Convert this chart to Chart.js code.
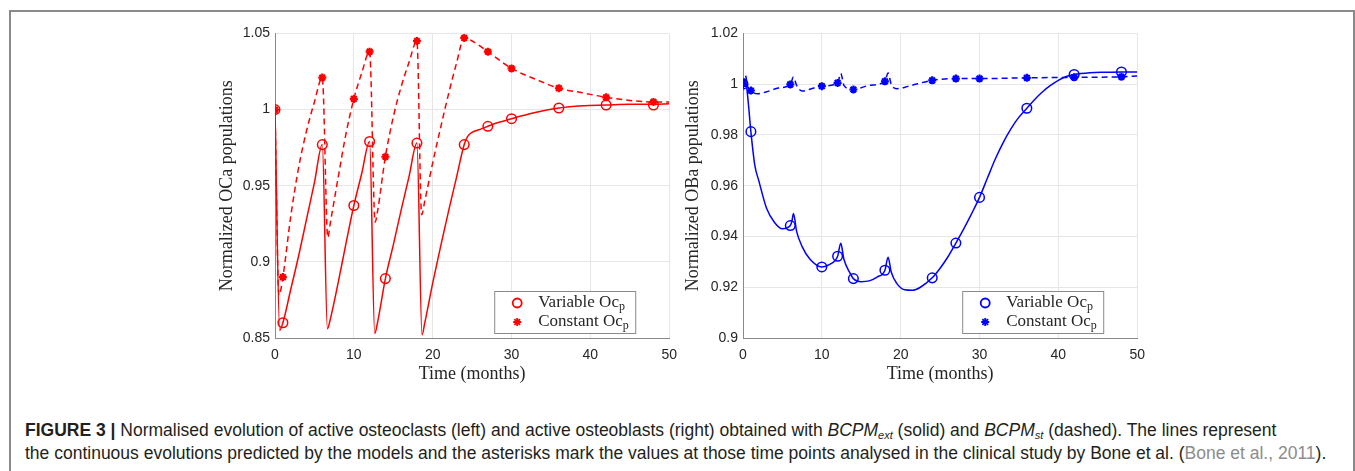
<!DOCTYPE html>
<html lang="en">
<head>
<meta charset="UTF-8">
<title>Figure 3 - OCa / OBa evolution</title>
<script src="https://cdn.jsdelivr.net/npm/chart.js"></script>
<style>
    body { margin: 0; width: 1355px; height: 471px; background: #fff; position: relative; overflow: hidden; font-family: "Liberation Sans", Arial, sans-serif; }
    .frame { position: absolute; left: 9px; top: 10px; width: 1342px; height: 480px; border: 2px solid #8a8a8a; border-bottom: none; }
    .chart-box { position: absolute; top: 20px; width: 486px; height: 370px; }
    #leftBox { left: 200px; }
    #rightBox { left: 668px; }
    .caption { position: absolute; left: 25px; top: 419px; font-size: 17.5px; line-height: 23px; color: #231f20; white-space: nowrap; }
    .caption sub { font-size: 11px; line-height: 0; vertical-align: -3px; }
    .cite { color: #8c8c8c; }
</style>
</head>
<body>
<div class="frame"></div>
<div class="chart-box" id="leftBox"><canvas id="ocaChart"></canvas></div>
<div class="chart-box" id="rightBox"><canvas id="obaChart"></canvas></div>
<div class="caption">
    <b>FIGURE 3 |</b> Normalised evolution of active osteoclasts (left) and active osteoblasts (right) obtained with <i>BCPM<sub>ext</sub></i> (solid) and <i>BCPM<sub>st</sub></i> (dashed). The lines represent<br>
    the continuous evolutions predicted by the models and the asterisks mark the values at those time points analysed in the clinical study by Bone et al. (<span class="cite">Bone et al., 2011</span>).
</div>

<script>
// time points of the clinical study (months)
const studyMonths = [0, 1, 6, 10, 12, 14, 18, 24, 27, 30, 36, 42, 48];

// left panel: active osteoclasts
const ocaVariableMarks = [1.0, 0.86, 0.977, 0.937, 0.979, 0.889, 0.978, 0.977, 0.989, 0.994, 1.001, 1.003, 1.003];
const ocaConstantMarks = [1.0, 0.89, 1.021, 1.007, 1.038, 0.969, 1.045, 1.047, 1.038, 1.027, 1.014, 1.008, 1.005];

const ocaVariableT = [0, 0.6, 1, 2, 3, 4, 5, 6, 6.65, 7, 8, 9, 10, 11, 12, 12.65, 13, 14, 15, 16, 17, 18, 18.65, 19, 20, 21, 22, 23, 24, 24.4, 25, 26, 27, 28, 30, 33, 36, 39, 42, 45, 48, 50];
const ocaVariableY = [1.0, 0.855, 0.86, 0.882, 0.904, 0.928, 0.952, 0.977, 0.856, 0.862, 0.886, 0.912, 0.937, 0.958, 0.979, 0.853, 0.86, 0.889, 0.911, 0.934, 0.956, 0.978, 0.852, 0.86, 0.886, 0.91, 0.933, 0.955, 0.977, 0.982, 0.985, 0.987, 0.989, 0.991, 0.994, 0.998, 1.001, 1.0025, 1.003, 1.0035, 1.0035, 1.0038];

const ocaConstantT = [0, 0.5, 1, 2, 3, 4, 5, 6, 6.7, 7, 8, 9, 10, 11, 12, 12.7, 13, 14, 15, 16, 17, 18, 18.6, 19, 20, 21, 22, 23, 24, 25, 27, 30, 33, 36, 39, 42, 45, 48, 50];
const ocaConstantY = [1.0, 0.878, 0.89, 0.93, 0.962, 0.986, 1.005, 1.021, 0.916, 0.925, 0.955, 0.984, 1.007, 1.024, 1.038, 0.926, 0.933, 0.969, 0.995, 1.015, 1.031, 1.045, 0.931, 0.94, 0.965, 0.988, 1.01, 1.03, 1.047, 1.045, 1.038, 1.027, 1.02, 1.014, 1.011, 1.008, 1.006, 1.005, 1.005];

// right panel: active osteoblasts
const obaVariableMarks = [1.0, 0.9813, 0.9443, 0.928, 0.9322, 0.9234, 0.9267, 0.9237, 0.9374, 0.9554, 0.9905, 1.0038, 1.0048];
const obaConstantMarks = [1.0, 0.9975, 0.9999, 0.9992, 1.0005, 0.9979, 1.0011, 1.0015, 1.0022, 1.0022, 1.0025, 1.0027, 1.0029];

const obaVariableT = [0, 0.3, 0.6, 1, 1.5, 2, 3, 4, 5, 6, 6.2, 6.4, 6.8, 7.5, 8.5, 10, 11, 12, 12.4, 12.8, 13.5, 14, 15, 16, 17, 18, 18.4, 18.8, 19.5, 20.5, 21.5, 22.5, 24, 25, 26, 27, 28, 29, 30, 31, 32, 33, 34, 35, 36, 37, 38, 39, 40, 41, 42, 44, 46, 48, 50];
const obaVariableY = [1.0, 1.002, 0.995, 0.9813, 0.968, 0.962, 0.951, 0.9455, 0.943, 0.9443, 0.946, 0.949, 0.942, 0.936, 0.931, 0.928, 0.929, 0.9322, 0.9373, 0.931, 0.926, 0.9234, 0.9222, 0.9225, 0.924, 0.9267, 0.9318, 0.926, 0.9215, 0.919, 0.9188, 0.92, 0.9237, 0.9275, 0.932, 0.9374, 0.943, 0.949, 0.9554, 0.963, 0.9705, 0.977, 0.9825, 0.987, 0.9905, 0.994, 0.997, 0.9995, 1.0015, 1.003, 1.0038, 1.0045, 1.0047, 1.0048, 1.0048];

const obaConstantT = [0, 0.3, 0.6, 1, 1.8, 3, 4.5, 6, 6.4, 6.8, 7.5, 9, 10, 12, 12.4, 12.8, 13.5, 14, 16, 18, 18.4, 18.8, 19.5, 21, 24, 27, 30, 36, 42, 48, 50];
const obaConstantY = [1.0, 1.0035, 0.999, 0.9975, 0.9962, 0.997, 0.9985, 0.9999, 1.0028, 0.9995, 0.9973, 0.9985, 0.9992, 1.0005, 1.0042, 0.9995, 0.9982, 0.9979, 0.9995, 1.0011, 1.0044, 1.0, 0.9982, 0.9992, 1.0015, 1.0022, 1.0022, 1.0025, 1.0027, 1.0029, 1.0032];

const legendLabels = ['Variable Oc', 'Constant Oc'];

const toPoints = (xs, ys) => xs.map((x, i) => ({ x: x, y: ys[i] }));
const gridColor = '#e6e6e6';
const axisColor = '#8a8a8a';
const textColor = '#262626';
const serif = '"Liberation Serif", "Times New Roman", serif';

// legend drawn inside the plot, bottom right, like the matlab one
const boxLegend = {
    id: 'boxLegend',
    afterDatasetsDraw(chart, args, opts) {
        const ctx = chart.ctx;
        const area = chart.chartArea;
        const w = 141, h = 42;
        const x0 = area.right - 34 - w;
        const y0 = area.bottom - 5 - h;
        ctx.save();
        ctx.fillStyle = '#fff';
        ctx.fillRect(x0, y0, w, h);
        ctx.strokeStyle = axisColor;
        ctx.lineWidth = 1;
        ctx.strokeRect(x0 + 0.5, y0 + 0.5, w, h);
        const rows = [
            { style: 'circle', radius: 4.5, y: y0 + 12 },
            { style: 'star', radius: 4, y: y0 + 31 }
        ];
        rows.forEach((r, i) => {
            ctx.strokeStyle = opts.color;
            ctx.fillStyle = 'rgba(0,0,0,0)';
            ctx.lineWidth = 1.8;
            Chart.helpers.drawPoint(ctx, { pointStyle: r.style, radius: r.radius, borderWidth: 1.8, rotation: 0 }, x0 + 23, r.y);
            ctx.fillStyle = textColor;
            ctx.textBaseline = 'middle';
            ctx.font = '17px ' + serif;
            ctx.fillText(legendLabels[i], x0 + 44, r.y);
            const tw = ctx.measureText(legendLabels[i]).width;
            ctx.font = '12px ' + serif;
            ctx.fillText('p', x0 + 44 + tw, r.y + 4);
        });
        ctx.restore();
    }
};

function makeChart(canvasId, color, data, yMin, yMax, yStep, yTitle, titlePad) {
    return new Chart(document.getElementById(canvasId), {
        type: 'scatter',
        data: {
            datasets: [
                {
                    label: 'Variable curve',
                    data: toPoints(data.varT, data.varY),
                    showLine: true,
                    borderColor: color,
                    borderWidth: 1.5,
                    pointRadius: 0,
                    cubicInterpolationMode: 'monotone'
                },
                {
                    label: 'Constant curve',
                    data: toPoints(data.conT, data.conY),
                    showLine: true,
                    borderColor: color,
                    borderWidth: 1.5,
                    borderDash: [6, 4],
                    pointRadius: 0,
                    cubicInterpolationMode: 'monotone'
                },
                {
                    label: 'Variable Ocp',
                    data: toPoints(studyMonths, data.varMarks),
                    pointStyle: 'circle',
                    pointRadius: 4.8,
                    borderColor: color,
                    backgroundColor: 'rgba(0,0,0,0)',
                    borderWidth: 1.5
                },
                {
                    label: 'Constant Ocp',
                    data: toPoints(studyMonths, data.conMarks),
                    pointStyle: 'star',
                    pointRadius: 4,
                    borderColor: color,
                    backgroundColor: color,
                    borderWidth: 2.2
                }
            ]
        },
        options: {
            responsive: true,
            maintainAspectRatio: false,
            animation: false,
            layout: { padding: { top: 12, right: 11, left: 0, bottom: 0 } },
            plugins: {
                legend: { display: false },
                tooltip: { enabled: false },
                boxLegend: { color: color }
            },
            scales: {
                x: {
                    type: 'linear',
                    min: 0,
                    max: 50,
                    ticks: { stepSize: 10, padding: 9, color: textColor, font: { family: '"Liberation Sans", Arial, sans-serif', size: 14 } },
                    grid: { color: gridColor, drawTicks: false },
                    border: { color: axisColor, width: 1 },
                    title: { display: true, text: 'Time (months)', color: textColor, font: { family: serif, size: 18 }, padding: { top: 0, bottom: 5 } },
                    afterFit(scale) { scale.height = 52; }
                },
                y: {
                    min: yMin,
                    max: yMax,
                    ticks: {
                        stepSize: yStep,
                        padding: 5,
                        color: textColor,
                        font: { family: '"Liberation Sans", Arial, sans-serif', size: 14 },
                        callback: v => String(parseFloat(v.toFixed(3)))
                    },
                    grid: { color: gridColor, drawTicks: false },
                    border: { color: axisColor, width: 1 },
                    title: { display: true, text: yTitle, color: textColor, font: { family: serif, size: 18 }, padding: { top: titlePad, bottom: 0 } },
                    afterFit(scale) { scale.width = 75; }
                }
            }
        },
        plugins: [boxLegend]
    });
}

makeChart('ocaChart', '#ff0000', {
    varT: ocaVariableT, varY: ocaVariableY,
    conT: ocaConstantT, conY: ocaConstantY,
    varMarks: ocaVariableMarks, conMarks: ocaConstantMarks
}, 0.85, 1.05, 0.05, 'Normalized OCa populations', 16);

makeChart('obaChart', '#0000ff', {
    varT: obaVariableT, varY: obaVariableY,
    conT: obaConstantT, conY: obaConstantY,
    varMarks: obaVariableMarks, conMarks: obaConstantMarks
}, 0.9, 1.02, 0.02, 'Normalized OBa populations', 14);
</script>
</body>
</html>
